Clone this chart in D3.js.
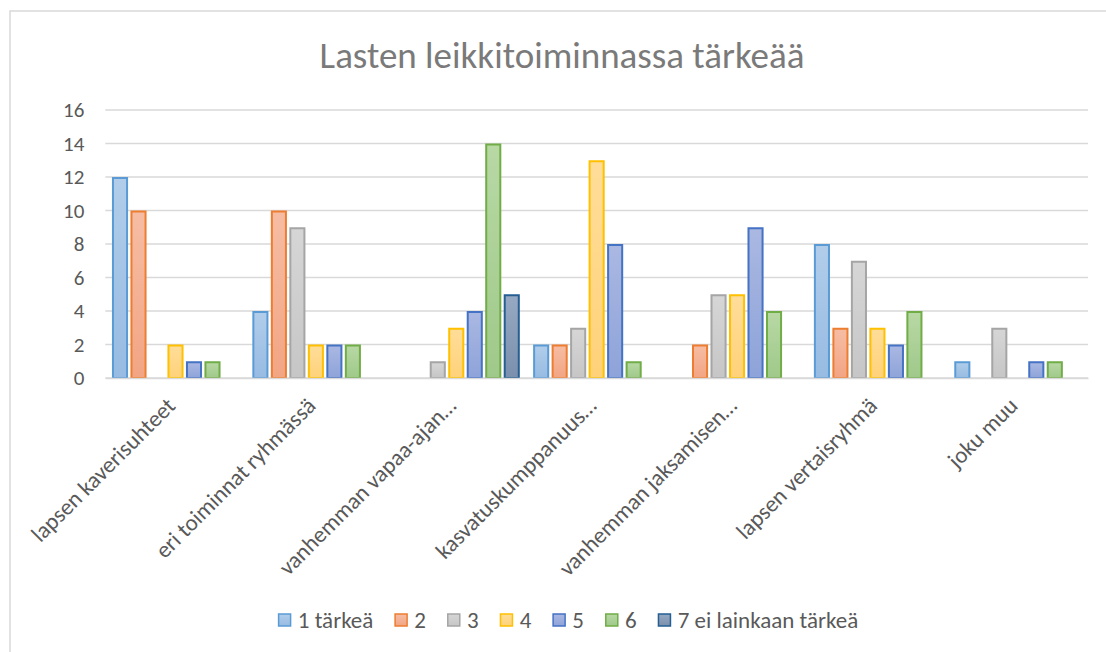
<!DOCTYPE html>
<html>
<head>
<meta charset="utf-8">
<script src="https://cdn.jsdelivr.net/npm/d3@7"></script>
<style>
  body { margin: 0; background: #fff; }
  svg text { font-family: Calibri, Carlito, Lato, "Open Sans", sans-serif; fill: #595959; }
</style>
</head>
<body>
<svg id="chart" width="1106" height="652"></svg>
<script>
const categories = [
  'lapsen kaverisuhteet',
  'eri toiminnat ryhmässä',
  'vanhemman vapaa-ajan…',
  'kasvatuskumppanuus…',
  'vanhemman jaksamisen…',
  'lapsen vertaisryhmä',
  'joku muu'
];
const seriesNames = ['1 tärkeä', '2', '3', '4', '5', '6', '7 ei lainkaan tärkeä'];
// one array per series, values per category
const s1 = [12, 4, 0, 2, 0, 8, 1];
const s2 = [10, 10, 0, 2, 2, 3, 0];
const s3 = [0, 9, 1, 3, 5, 7, 3];
const s4 = [2, 2, 3, 13, 5, 3, 0];
const s5 = [1, 2, 4, 8, 9, 2, 1];
const s6 = [1, 2, 14, 1, 4, 4, 1];
const s7 = [0, 0, 5, 0, 0, 0, 0];
const seriesValues = [s1, s2, s3, s4, s5, s6, s7];
const yTicks = [0, 2, 4, 6, 8, 10, 12, 14, 16];

const strokeColors = ['#5B9BD5', '#ED7D31', '#A5A5A5', '#FFC000', '#4472C4', '#70AD47', '#255E91'];
const fillTop = ['#b1cdea', '#f6bda4', '#d6d6d6', '#ffdd99', '#aab8e2', '#b8d8a4', '#97a9c2'];
const fillBottom = ['#97bbe2', '#f2a583', '#c6c6c6', '#ffd279', '#8ea3d9', '#9fc98a', '#7b90ad'];

const svg = d3.select('#chart');
const margin = { left: 105.3, right: 18, top: 110, bottom: 274 };
const width = 1106, height = 652;

// gradients like excel's default style
const defs = svg.append('defs');
strokeColors.forEach((c, i) => {
  const g = defs.append('linearGradient')
    .attr('id', `grad${i}`)
    .attr('x1', 0).attr('y1', 0).attr('x2', 0).attr('y2', 1);
  g.append('stop').attr('offset', '0%').attr('stop-color', fillTop[i]);
  g.append('stop').attr('offset', '100%').attr('stop-color', fillBottom[i]);
});

// outer chart border (runs off the right and bottom edges)
svg.append('rect')
  .attr('x', 10).attr('y', 11)
  .attr('width', 1110).attr('height', 660)
  .attr('fill', 'none')
  .attr('stroke', '#d9d9d9')
  .attr('stroke-width', 1.5);

const x0 = d3.scaleBand()
  .domain(categories)
  .range([margin.left, width - margin.right])
  .paddingInner(0).paddingOuter(0);

const x1 = d3.scaleBand()
  .domain(d3.range(seriesNames.length))
  .range([0, x0.bandwidth()])
  .paddingInner(0.13)
  .paddingOuter(0.36);

const y = d3.scaleLinear()
  .domain([0, 16])
  .range([height - margin.bottom, margin.top]);

// gridlines
svg.append('g')
  .selectAll('line')
  .data(yTicks)
  .join('line')
  .attr('x1', margin.left).attr('x2', width - margin.right)
  .attr('y1', d => y(d)).attr('y2', d => y(d))
  .attr('stroke', '#d9d9d9')
  .attr('stroke-width', 1.5);

// y axis labels
const yAxis = svg.append('g')
  .attr('transform', `translate(${margin.left - 21},0)`)
  .call(d3.axisLeft(y).tickValues(yTicks).tickSize(0).tickPadding(0));
yAxis.select('.domain').remove();
yAxis.selectAll('text')
  .attr('font-size', 21)
  .attr('fill', '#595959')
  .style('font-family', null);

// bars
const groups = svg.append('g')
  .selectAll('g')
  .data(categories)
  .join('g')
  .attr('transform', d => `translate(${x0(d)},0)`);

groups.selectAll('rect')
  .data((d, ci) => seriesValues.map((vals, si) => ({ si, v: vals[ci] })).filter(e => e.v > 0))
  .join('rect')
  .attr('x', d => x1(d.si) + 1)
  .attr('width', x1.bandwidth() - 2)
  .attr('y', d => y(d.v) + 1)
  .attr('height', d => y(0) - y(d.v) - 1)
  .attr('fill', d => `url(#grad${d.si})`)
  .attr('stroke', d => strokeColors[d.si])
  .attr('stroke-width', 2);

// category labels, rotated
const xAxis = svg.append('g')
  .attr('transform', `translate(0,${y(0)})`)
  .call(d3.axisBottom(x0).tickSize(0).tickPadding(0));
xAxis.select('.domain')
  .attr('stroke', '#d9d9d9')
  .attr('stroke-width', 1.5);
xAxis.selectAll('text')
  .attr('font-size', 23)
  .attr('fill', '#595959')
  .style('font-family', null)
  .attr('text-anchor', 'end')
  .attr('dy', '0.75em')
  .attr('y', 0)
  .attr('transform', 'translate(-11,17) rotate(-45)');

// title
svg.append('text')
  .attr('x', 562)
  .attr('y', 68)
  .attr('text-anchor', 'middle')
  .attr('font-size', 37)
  .attr('font-weight', 300)
  .style('fill', '#7a7a7a')
  .text('Lasten leikkitoiminnassa tärkeää');

// legend, laid out then centred
const legend = svg.append('g');
let lx = 0;
seriesNames.forEach((name, i) => {
  const item = legend.append('g').attr('transform', `translate(${lx},0)`);
  item.append('rect')
    .attr('x', 0.75).attr('y', 614)
    .attr('width', 12).attr('height', 12)
    .attr('fill', `url(#grad${i})`)
    .attr('stroke', strokeColors[i])
    .attr('stroke-width', 1.5);
  const t = item.append('text')
    .attr('x', 20)
    .attr('y', 627.5)
    .attr('font-size', 23)
    .text(name);
  lx += 20 + t.node().getComputedTextLength() + 21;
});
const legendWidth = lx - 21;
legend.attr('transform', `translate(${568 - legendWidth / 2},0)`);
</script>
</body>
</html>
